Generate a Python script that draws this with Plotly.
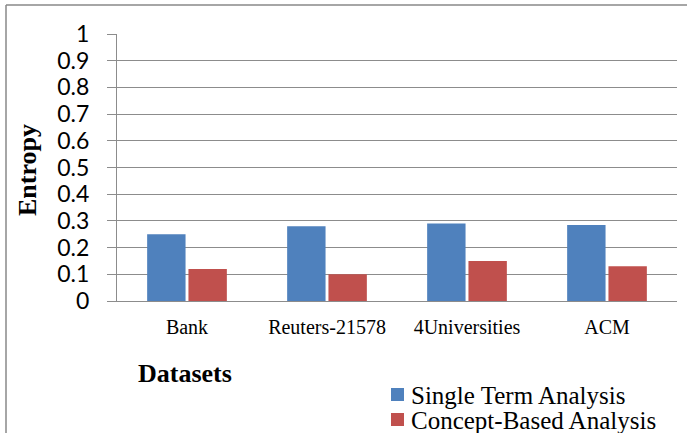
import plotly.graph_objects as go

categories = ["Bank", "Reuters-21578", "4Universities", "ACM"]
single_term = [0.25, 0.28, 0.29, 0.285]
concept_based = [0.12, 0.10, 0.15, 0.13]
series_names = ["Single Term Analysis", "Concept-Based Analysis"]
series_colors = ["#4F81BD", "#C0504D"]
y_ticks = [0, 0.1, 0.2, 0.3, 0.4, 0.5, 0.6, 0.7, 0.8, 0.9, 1]

W, H = 687, 433
L, R, T, B = 117, 10, 34, 132
pw, ph = W - L - R, H - T - B

def px_x(p):
    return (p - L) / pw

def px_y(p):
    return (H - B - p) / ph

fig = go.Figure()
fig.add_trace(go.Bar(x=categories, y=single_term, name=series_names[0],
                     marker=dict(color=series_colors[0], line=dict(width=0))))
fig.add_trace(go.Bar(x=categories, y=concept_based, name=series_names[1],
                     marker=dict(color=series_colors[1], line=dict(width=0))))

grid = "#8C8C8C"
serif = "Liberation Serif"
annotations = [
    dict(text="<b>Entropy</b>", textangle=-90, xref="paper", yref="paper",
         x=px_x(27), y=px_y(170), xanchor="center", yanchor="middle", showarrow=False,
         font=dict(family=serif, size=26, color="black")),
    dict(text="<b>Datasets</b>", xref="paper", yref="paper",
         x=px_x(185), y=px_y(373), xanchor="center", yanchor="middle", showarrow=False,
         font=dict(family=serif, size=26, color="black")),
]
shapes = [
    dict(type="line", xref="paper", yref="paper", x0=px_x(6), x1=px_x(6),
         y0=px_y(5), y1=px_y(H + 5), line=dict(color="#888888", width=1.5)),
    dict(type="line", xref="paper", yref="paper", x0=px_x(6), x1=px_x(W + 5),
         y0=px_y(5), y1=px_y(5), line=dict(color="#888888", width=1.5)),
]
# legend (drawn manually so it can sit below the plot like the reference)
for i, (name, col) in enumerate(zip(series_names, series_colors)):
    top = 388 + 25 * i
    shapes.append(dict(type="rect", xref="paper", yref="paper",
                       x0=px_x(391), x1=px_x(404), y0=px_y(top), y1=px_y(top + 13),
                       fillcolor=col, line=dict(width=0)))
    annotations.append(dict(text=name, xref="paper", yref="paper",
                            x=px_x(409), y=px_y(top + 7), xanchor="left", yanchor="middle",
                            showarrow=False,
                            font=dict(family=serif, size=25, color="black")))

fig.update_layout(
    width=W, height=H,
    margin=dict(l=L, r=R, t=T, b=B),
    paper_bgcolor="white", plot_bgcolor="white",
    barmode="group", bargap=0.41, bargroupgap=0.07,
    showlegend=False,
    xaxis=dict(showgrid=False, showline=True, linecolor=grid, linewidth=1.3,
               ticks="", tickangle=0, ticklabelstandoff=8,
               tickfont=dict(family=serif, size=20, color="black"),
               fixedrange=True),
    yaxis=dict(range=[0, 1], tickvals=y_ticks, ticktext=[("%g" % v) for v in y_ticks],
               showgrid=True, gridcolor=grid, gridwidth=1.3,
               showline=True, linecolor=grid, linewidth=1.3,
               ticks="outside", ticklen=9, tickcolor=grid, tickwidth=1.3,
               ticklabelstandoff=13,
               tickfont=dict(family="Lato", size=23, color="black"),
               zeroline=False, fixedrange=True),
    annotations=annotations,
    shapes=shapes,
)

fig.write_html("out.html", config={"displayModeBar": False},
               post_script="document.body.style.margin='0';")
